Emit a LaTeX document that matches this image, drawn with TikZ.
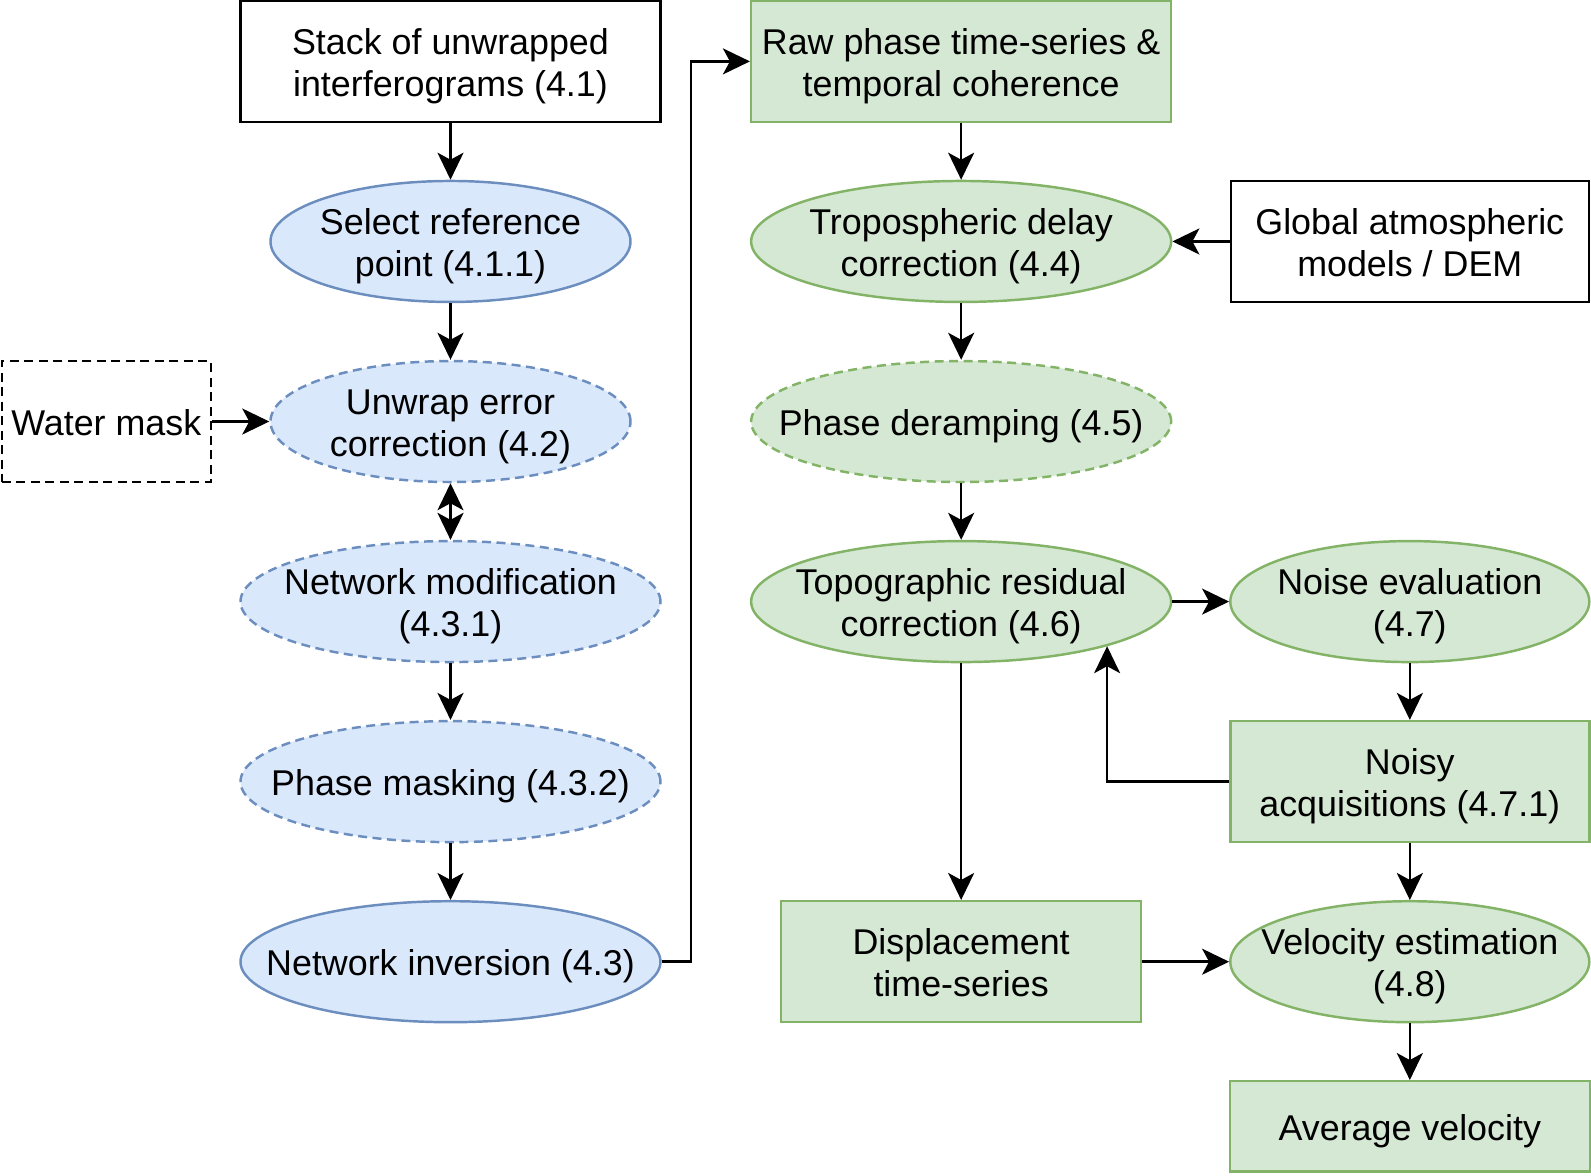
\documentclass[tikz,border=0pt]{standalone}
\usepackage{fontspec}
\setmainfont{Liberation Sans}
\usetikzlibrary{calc,matrix,shapes.geometric,arrows.meta}

\definecolor{blfill}{HTML}{DAE8FC}
\definecolor{bldraw}{HTML}{6C8EBF}
\definecolor{grfill}{HTML}{D5E8D4}
\definecolor{grdraw}{HTML}{82B366}

% fixed top/bottom struts so every label sits at the same height
\newcommand{\oneline}[1]{\rule{0pt}{1em}#1\rule[-0.22em]{0pt}{0.22em}}
\newcommand{\twolines}[2]{\rule{0pt}{1em}#1\\#2\rule[-0.22em]{0pt}{0.22em}}

\begin{document}
\begin{tikzpicture}[>={Stealth[length=2.7mm,width=2.6mm,inset=0.7mm]},
    line width=0.7pt,
    every node/.style={font=\fontsize{10.2}{11.8}\selectfont},
    plain/.style={draw,rectangle,align=center,inner sep=0pt,minimum height=1.21cm},
    greenbox/.style={plain,draw=grdraw,fill=grfill},
    blob/.style={ellipse,align=center,minimum height=1.21cm,inner xsep=-3cm,inner ysep=-1cm},
    blueblob/.style={blob,draw=bldraw,fill=blfill},
    greenblob/.style={blob,draw=grdraw,fill=grfill},
    optional/.style={dash pattern=on 0.09cm off 0.055cm}]
    \matrix [%
      nodes={anchor=center},
      column sep=0.272cm,
      row sep=0.566cm
    ] (flow) {%
      & \node[plain,minimum width=4.2cm] (stack) {\twolines{Stack of unwrapped}{interferograms (4.1)}};
      &[0.61cm] \node[greenbox,minimum width=4.2cm] (raw) {\twolines{Raw phase time-series \&}{temporal coherence}};
      &[0.29cm] \\
      & \node[blueblob,minimum width=3.6cm] (refpt) {\twolines{Select reference}{point (4.1.1)}};
      & \node[greenblob,minimum width=4.2cm] (tropo) {\twolines{Tropospheric delay}{correction (4.4)}};
      & \node[plain,minimum width=3.58cm] (atmo) {\twolines{Global atmospheric}{models / DEM}}; \\
      \node[plain,optional,minimum width=2.09cm] (water) {\oneline{Water mask}};
      & \node[blueblob,optional,minimum width=3.6cm] (unwrap) {\twolines{Unwrap error}{correction (4.2)}};
      & \node[greenblob,optional,minimum width=4.2cm] (deramp) {\oneline{Phase deramping (4.5)}}; & \\
      & \node[blueblob,optional,minimum width=4.2cm] (netmod) {\twolines{Network modification}{(4.3.1)}};
      & \node[greenblob,minimum width=4.2cm] (topo) {\twolines{Topographic residual}{correction (4.6)}};
      & \node[greenblob,minimum width=3.59cm] (noise) {\twolines{Noise evaluation}{(4.7)}}; \\
      & \node[blueblob,optional,minimum width=4.2cm] (masking) {\oneline{Phase masking (4.3.2)}};
      &
      & \node[greenbox,minimum width=3.59cm] (noisy) {\twolines{Noisy}{acquisitions (4.7.1)}}; \\
      & \node[blueblob,minimum width=4.2cm] (inv) {\oneline{Network inversion (4.3)}};
      & \node[greenbox,minimum width=3.6cm] (disp) {\twolines{Displacement}{time-series}};
      & \node[greenblob,minimum width=3.59cm] (vel) {\twolines{Velocity estimation}{(4.8)}}; \\
      & & & \node[greenbox,minimum width=3.6cm,minimum height=0.9cm] (avg) {\oneline{Average velocity}}; \\
    };

    \path (stack)  edge[->]  (refpt)
          (refpt)  edge[->]  (unwrap)
          (water)  edge[->]  (unwrap)
          (unwrap) edge[<->] (netmod)
          (netmod) edge[->]  (masking)
          (masking) edge[->] (inv)
          (raw)    edge[->]  (tropo)
          (atmo)   edge[->]  (tropo)
          (tropo)  edge[->]  (deramp)
          (deramp) edge[->]  (topo)
          (topo)   edge[->]  (noise)
          (topo)   edge[->]  (disp)
          (noise)  edge[->]  (noisy)
          (noisy)  edge[->]  (vel)
          (disp)   edge[->]  (vel)
          (vel)    edge[->]  (avg);

    \draw[->] (inv.east) -- ++(0.295,0) |- (raw.west);
    \draw[->] (noisy.west) -| (topo.-17);

    \pgfresetboundingbox
    \useasboundingbox ($(stack.center)+(-4.505,0.614)$) rectangle ++(15.91,-11.75);
  \end{tikzpicture}
\end{document}
